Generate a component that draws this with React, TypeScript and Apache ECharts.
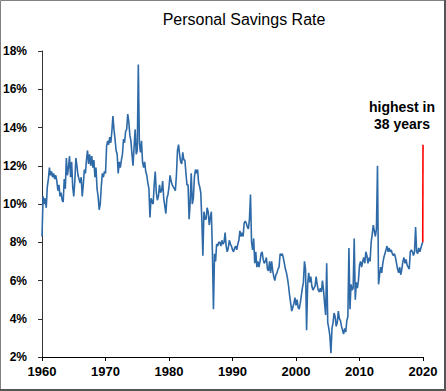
import React, { useEffect, useRef } from "react";
import * as echarts from "echarts";

// Personal savings rate (%), six readings per year (every two months)
const rate1960s = [
  8.3, 10.4, 10.0, 10.3, 9.8, 10.9,
  11.3, 11.9, 11.5, 11.7, 11.4, 11.6,
  11.3, 11.5, 11.2, 10.7, 11.0, 10.4,
  10.6, 10.2, 10.1, 11.3, 10.8, 12.4,
  11.5, 11.9, 12.5, 11.4, 12.2, 10.9,
  10.4, 11.2, 12.4, 12.0, 11.5, 11.3,
  11.1, 11.4, 10.4, 11.0, 11.8, 11.6,
  12.3, 12.8, 12.1, 12.6, 12.0, 12.5,
  11.9, 12.3, 11.4, 11.9, 10.8, 10.4,
  9.7, 10.0, 10.9, 11.6, 11.4, 11.7,
];
const rate1970s = [
  11.6, 13.0, 13.3, 13.1, 13.5, 13.2,
  13.8, 14.6, 13.9, 13.4, 12.8, 12.6,
  11.6, 12.2, 11.9, 12.3, 12.6, 13.4,
  13.2, 13.8, 13.9, 14.7, 14.3, 13.6,
  13.3, 12.6, 12.0, 13.0, 13.9, 12.6,
  12.8, 17.3, 13.2, 12.7, 13.3, 12.2,
  11.9, 12.2, 11.7, 11.5, 11.1, 10.8,
  9.3, 10.3, 10.1, 10.0, 11.0, 11.7,
  10.6, 10.2, 10.4, 11.0, 10.6, 10.7,
  11.2, 10.3, 9.9, 9.5, 10.3, 10.5,
];
const rate1980s = [
  10.9, 11.5, 11.2, 11.0, 10.9, 10.8,
  10.7, 11.5, 12.8, 13.1, 12.6, 12.2,
  12.1, 12.7, 12.3, 12.3, 11.6, 11.0,
  11.0, 9.2, 10.1, 11.6, 10.0, 10.3,
  11.4, 11.8, 11.6, 11.8, 11.1, 10.9,
  10.6, 9.2, 7.3, 9.6, 9.2, 9.2,
  9.8, 9.6, 8.9, 9.3, 9.6, 7.5,
  4.5, 7.4, 7.0, 7.9, 7.8, 8.0,
  8.0, 7.8, 8.1, 7.9, 8.0, 8.5,
  7.8, 7.5, 7.7, 8.1, 7.9, 7.8,
];
const rate1990s = [
  7.6, 7.5, 7.7, 7.8, 7.6, 7.9,
  8.1, 8.6, 8.3, 8.5, 8.3, 9.0,
  9.1, 9.0, 8.8, 8.7, 9.2, 10.5,
  8.0, 7.6, 8.2, 6.9, 7.5, 6.7,
  7.0, 6.7, 7.0, 7.4, 7.5, 7.1,
  6.9, 7.0, 7.2, 6.6, 6.5, 7.0,
  6.4, 7.0, 6.5, 6.2, 6.0, 6.3,
  6.4, 6.6, 6.7, 7.4, 7.3, 7.4,
  7.2, 6.9, 6.6, 6.4, 6.1, 5.7,
  5.2, 4.8, 4.4, 4.6, 4.8, 5.1,
];
const rate2000s = [
  4.7, 5.0, 4.6, 4.5, 4.8, 5.2,
  5.6, 5.9, 7.0, 6.6, 3.4, 5.8,
  6.4, 5.9, 6.2, 5.7, 5.5, 5.6,
  5.7, 6.2, 5.8, 5.5, 5.4, 5.6,
  5.4, 6.0, 5.5, 4.8, 4.2, 6.9,
  3.8, 3.5, 3.1, 2.2, 3.5, 3.8,
  4.3, 4.1, 3.6, 3.8, 4.4, 4.0,
  3.9, 3.6, 3.4, 3.2, 3.5, 3.3,
  3.9, 4.1, 7.7, 4.5, 5.8, 5.5,
  5.6, 8.2, 5.0, 5.9, 5.6, 6.0,
];
const rate2010s = [
  6.8, 7.0, 6.7, 7.0, 7.2, 6.9,
  7.5, 7.3, 6.9, 7.2, 7.0, 8.0,
  8.4, 8.9, 8.6, 8.3, 8.7, 12.0,
  5.8, 6.3, 6.7, 6.4, 6.9, 7.2,
  7.4, 7.6, 7.8, 7.5, 7.7, 7.5,
  7.6, 7.4, 7.3, 7.4, 7.2, 6.9,
  6.6, 6.4, 6.7, 6.3, 6.6, 7.0,
  7.2, 6.9, 7.1, 6.8, 6.7, 6.6,
  7.5, 7.6, 7.5, 7.3, 7.5, 8.8,
  7.5, 7.4, 7.7, 7.5, 7.7, 7.9,
];
const decadeStarts = [1960, 1970, 1980, 1990, 2000, 2010];
const latestJump = [8.0, 13.1]; // early 2020, highest in 38 years
const latestYear = 2020;
const yTicks = [2, 4, 6, 8, 10, 12, 14, 16, 18];
const xTicks = [1960, 1970, 1980, 1990, 2000, 2010, 2020];

const blueData: number[][] = [];
[rate1960s, rate1970s, rate1980s, rate1990s, rate2000s, rate2010s].forEach((arr, d) => {
  arr.forEach((v, i) => blueData.push([decadeStarts[d] + i / 6, v]));
});
blueData.push([latestYear - 0.04, latestJump[0]]);
const redData = [
  [latestYear - 0.04, latestJump[0]],
  [latestYear, latestJump[1]],
];

export default function App() {
  const ref = useRef<HTMLDivElement>(null);
  useEffect(() => {
    if (!ref.current) return;
    const chart = echarts.init(ref.current, null, { renderer: "svg" });
    const font = "Arial, 'Liberation Sans', sans-serif";
    chart.setOption({
      animation: false,
      backgroundColor: "#ffffff",
      title: {
        text: "Personal Savings Rate",
        left: 239,
        top: 6,
        textAlign: "center",
        textStyle: { fontFamily: font, fontSize: 16, fontWeight: "normal", color: "#000" },
      },
      grid: { left: 42, right: 23, top: 51, bottom: 34 },
      xAxis: {
        type: "value",
        min: xTicks[0],
        max: xTicks[xTicks.length - 1],
        interval: 10,
        axisLine: { show: true, lineStyle: { color: "#000", width: 1 } },
        axisTick: { show: true, length: 4, lineStyle: { color: "#000" } },
        axisLabel: {
          margin: 8,
          fontFamily: font,
          fontSize: 13,
          fontWeight: "bold",
          color: "#000",
          formatter: (v: number) => String(v),
        },
        splitLine: { show: false },
      },
      yAxis: {
        type: "value",
        min: yTicks[0],
        max: yTicks[yTicks.length - 1],
        interval: 2,
        axisLine: { show: true, lineStyle: { color: "#333", width: 1 } },
        axisTick: { show: true, length: 4, lineStyle: { color: "#333" } },
        axisLabel: {
          margin: 15,
          fontFamily: font,
          fontSize: 12,
          fontWeight: "bold",
          color: "#000",
          formatter: (v: number) => `${v}%`,
        },
        splitLine: { show: false },
      },
      series: [
        {
          type: "line",
          data: blueData,
          showSymbol: false,
          symbol: "none",
          lineStyle: { color: "#2e6aa7", width: 1.6 },
          z: 2,
        },
        {
          type: "line",
          data: redData,
          showSymbol: false,
          symbol: "none",
          lineStyle: { color: "#ff0000", width: 1.6 },
          z: 3,
        },
      ],
      graphic: [
        {
          type: "text",
          x: 402,
          y: 98,
          style: {
            text: "highest in\n38 years",
            align: "center",
            verticalAlign: "top",
            fontFamily: font,
            fontSize: 14,
            fontWeight: "bold",
            lineHeight: 17,
            fill: "#000",
          },
        },
        {
          type: "rect",
          shape: { x: 0.5, y: 0.5, width: 444, height: 389 },
          style: { fill: "none", stroke: "#808080", lineWidth: 1 },
          silent: true,
        },
        {
          type: "line",
          shape: { x1: 445, y1: 0, x2: 445, y2: 391 },
          style: { stroke: "#555", lineWidth: 2 },
          silent: true,
        },
        {
          type: "line",
          shape: { x1: 0, y1: 390, x2: 446, y2: 390 },
          style: { stroke: "#555", lineWidth: 2 },
          silent: true,
        },
      ],
    });
    return () => chart.dispose();
  }, []);
  return (
    <div style={{ position: "absolute", left: 0, top: 0 }}>
      <div ref={ref} style={{ width: 446, height: 391 }} />
    </div>
  );
}
